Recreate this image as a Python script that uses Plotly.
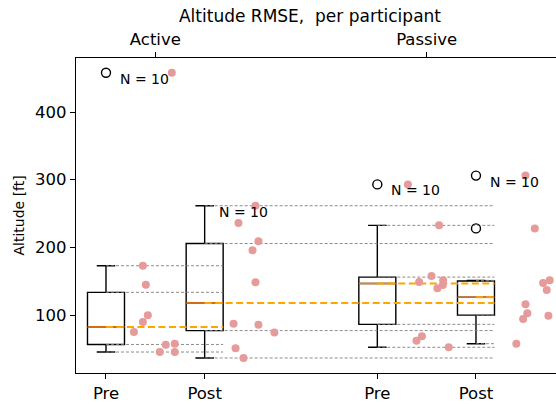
import numpy as np
import plotly.graph_objects as go

# ---- data ----
groups = ["Active Pre", "Active Post", "Passive Pre", "Passive Post"]
tick_labels = ["Pre", "Post", "Pre", "Post"]
conditions = ["Active", "Passive"]
positions = [1.0, 2.0, 3.75, 4.75]
condition_positions = [1.5, 4.25]

active_pre = [458, 172.8, 144.8, 99.6, 89.7, 74.9, 56.1, 57.6, 45.3, 45.3]
active_post = [261.5, 236, 209, 195.6, 148.3, 87, 85.6, 74.1, 50.8, 36.5]
passive_pre = [293, 232.5, 157.6, 148.7, 151.2, 144.3, 139.4, 68.5, 62, 52.3]
passive_post = [306, 228, 147.3, 151.2, 137, 115.8, 102.5, 94, 99, 57.6]

# horizontal jitter of the scatter points
jitter_active_pre = [0.667, 0.374, 0.404, 0.424, 0.374, 0.283, 0.606, 0.697, 0.545, 0.697]
jitter_active_post = [0.515, 0.343, 0.545, 0.485, 0.515, 0.293, 0.545, 0.707, 0.313, 0.394]
jitter_passive_pre = [0.31, 0.626, 0.549, 0.424, 0.667, 0.664, 0.609, 0.452, 0.397, 0.724]
jitter_passive_post = [0.502, 0.596, 0.68, 0.747, 0.717, 0.502, 0.52, 0.478, 0.734, 0.409]

# index of the box whose right edge ends the reference lines
line_end_box = [1, 3, 3, 3]

data = [active_pre, active_post, passive_pre, passive_post]
jitters = [jitter_active_pre, jitter_active_post, jitter_passive_pre, jitter_passive_post]

BOX_W = 0.375
FONT = "DejaVu Sans"


def box_stats(vals):
    v = np.asarray(vals, dtype=float)
    q1, med, q3 = np.percentile(v, [25, 50, 75])
    iqr = q3 - q1
    lo_f, hi_f = q1 - 1.5 * iqr, q3 + 1.5 * iqr
    inside = v[(v >= lo_f) & (v <= hi_f)]
    wlo, whi = inside.min(), inside.max()
    out = v[(v < lo_f) | (v > hi_f)]
    return q1, med, q3, wlo, whi, out


fig = go.Figure()
stats = [box_stats(d) for d in data]

# gray dashed reference lines
gx, gy = [], []
for i, (q1, med, q3, wlo, whi, out) in enumerate(stats):
    xend = positions[line_end_box[i]] + BOX_W / 2
    for val in (wlo, q1, q3, whi):
        gx += [positions[i], xend, None]
        gy += [val, val, None]
fig.add_trace(go.Scatter(x=gx, y=gy, mode="lines",
                         line=dict(color="rgba(128,128,128,0.9)", width=1, dash="3px,2px"),
                         hoverinfo="skip", showlegend=False))

# boxes
for i, (q1, med, q3, wlo, whi, out) in enumerate(stats):
    fig.add_trace(go.Box(x=[positions[i]], q1=[q1], median=[med], q3=[q3],
                         lowerfence=[wlo], upperfence=[whi], width=BOX_W,
                         whiskerwidth=0.5, boxpoints=False,
                         line=dict(color="black", width=1.4),
                         fillcolor="rgba(0,0,0,0)", showlegend=False))

# medians (orange) and dashed orange extensions
for i, (q1, med, q3, wlo, whi, out) in enumerate(stats):
    fig.add_trace(go.Scatter(x=[positions[i] - BOX_W / 2, positions[i] + BOX_W / 2], y=[med, med],
                             mode="lines", line=dict(color="#ff7f0e", width=1.4),
                             hoverinfo="skip", showlegend=False))
    xend = positions[line_end_box[i]] + BOX_W / 2
    fig.add_trace(go.Scatter(x=[positions[i], xend], y=[med, med], mode="lines",
                             line=dict(color="#FFA500", width=2, dash="7px,3.5px"),
                             hoverinfo="skip", showlegend=False))

# outliers
for i, (q1, med, q3, wlo, whi, out) in enumerate(stats):
    if len(out):
        fig.add_trace(go.Scatter(x=[positions[i]] * len(out), y=list(out), mode="markers",
                                 marker=dict(symbol="circle-open", size=9, color="black",
                                             line=dict(width=1.4, color="black")),
                                 hoverinfo="skip", showlegend=False))

# jittered points
for i, d in enumerate(data):
    fig.add_trace(go.Scatter(x=[positions[i] + j for j in jitters[i]], y=d, mode="markers",
                             marker=dict(size=8, color="rgb(230,155,155)"),
                             hoverinfo="skip", showlegend=False))

# N = 10 labels
for i, d in enumerate(data):
    fig.add_annotation(x=positions[i] + 0.12, y=max(d), text=f"N = {len(d)}",
                       showarrow=False, xanchor="left", yanchor="middle", yshift=-6,
                       font=dict(family=FONT, size=14, color="black"))

# y axis label
fig.add_annotation(x=-58 / 480, y=0.5, xref="paper", yref="paper", text="Altitude [ft]",
                   textangle=-90, showarrow=False, xanchor="center", yanchor="middle",
                   font=dict(family=FONT, size=14, color="black"))

# hidden trace to activate top axis
fig.add_trace(go.Scatter(x=[condition_positions[0]], y=[100], xaxis="x2", mode="markers",
                         marker=dict(opacity=0), hoverinfo="skip", showlegend=False))

XR = [0.696, 5.561]
fig.update_layout(
    width=556, height=404,
    margin=dict(l=76, r=0, t=58, b=31),
    paper_bgcolor="white", plot_bgcolor="white",
    font=dict(family=FONT, size=16, color="black"),
    title=dict(text="Altitude RMSE,  per participant", x=310 / 556, xanchor="center",
               y=1 - 16 / 404, yanchor="middle", font=dict(family=FONT, size=17)),
    xaxis=dict(range=XR, tickmode="array", tickvals=positions, ticktext=tick_labels,
               showgrid=False, zeroline=False, showline=True, linecolor="black", linewidth=1.3,
               ticks="outside", ticklen=5, tickwidth=1, tickcolor="black",
               tickfont=dict(family=FONT, size=16.5)),
    xaxis2=dict(range=XR, overlaying="x", side="top", tickmode="array",
                tickvals=condition_positions, ticktext=conditions,
                showgrid=False, zeroline=False, showline=True, linecolor="black", linewidth=1.3,
                ticks="outside", ticklen=5, tickwidth=1, tickcolor="black",
                tickfont=dict(family=FONT, size=16.5)),
    yaxis=dict(range=[14.3, 479.8], tickvals=[100, 200, 300, 400],
               showgrid=False, zeroline=False, showline=True, linecolor="black", linewidth=1.3,
               ticks="outside", ticklen=5, tickwidth=1, tickcolor="black",
               tickfont=dict(family=FONT, size=16.5)),
)

fig.write_html("out.html")
